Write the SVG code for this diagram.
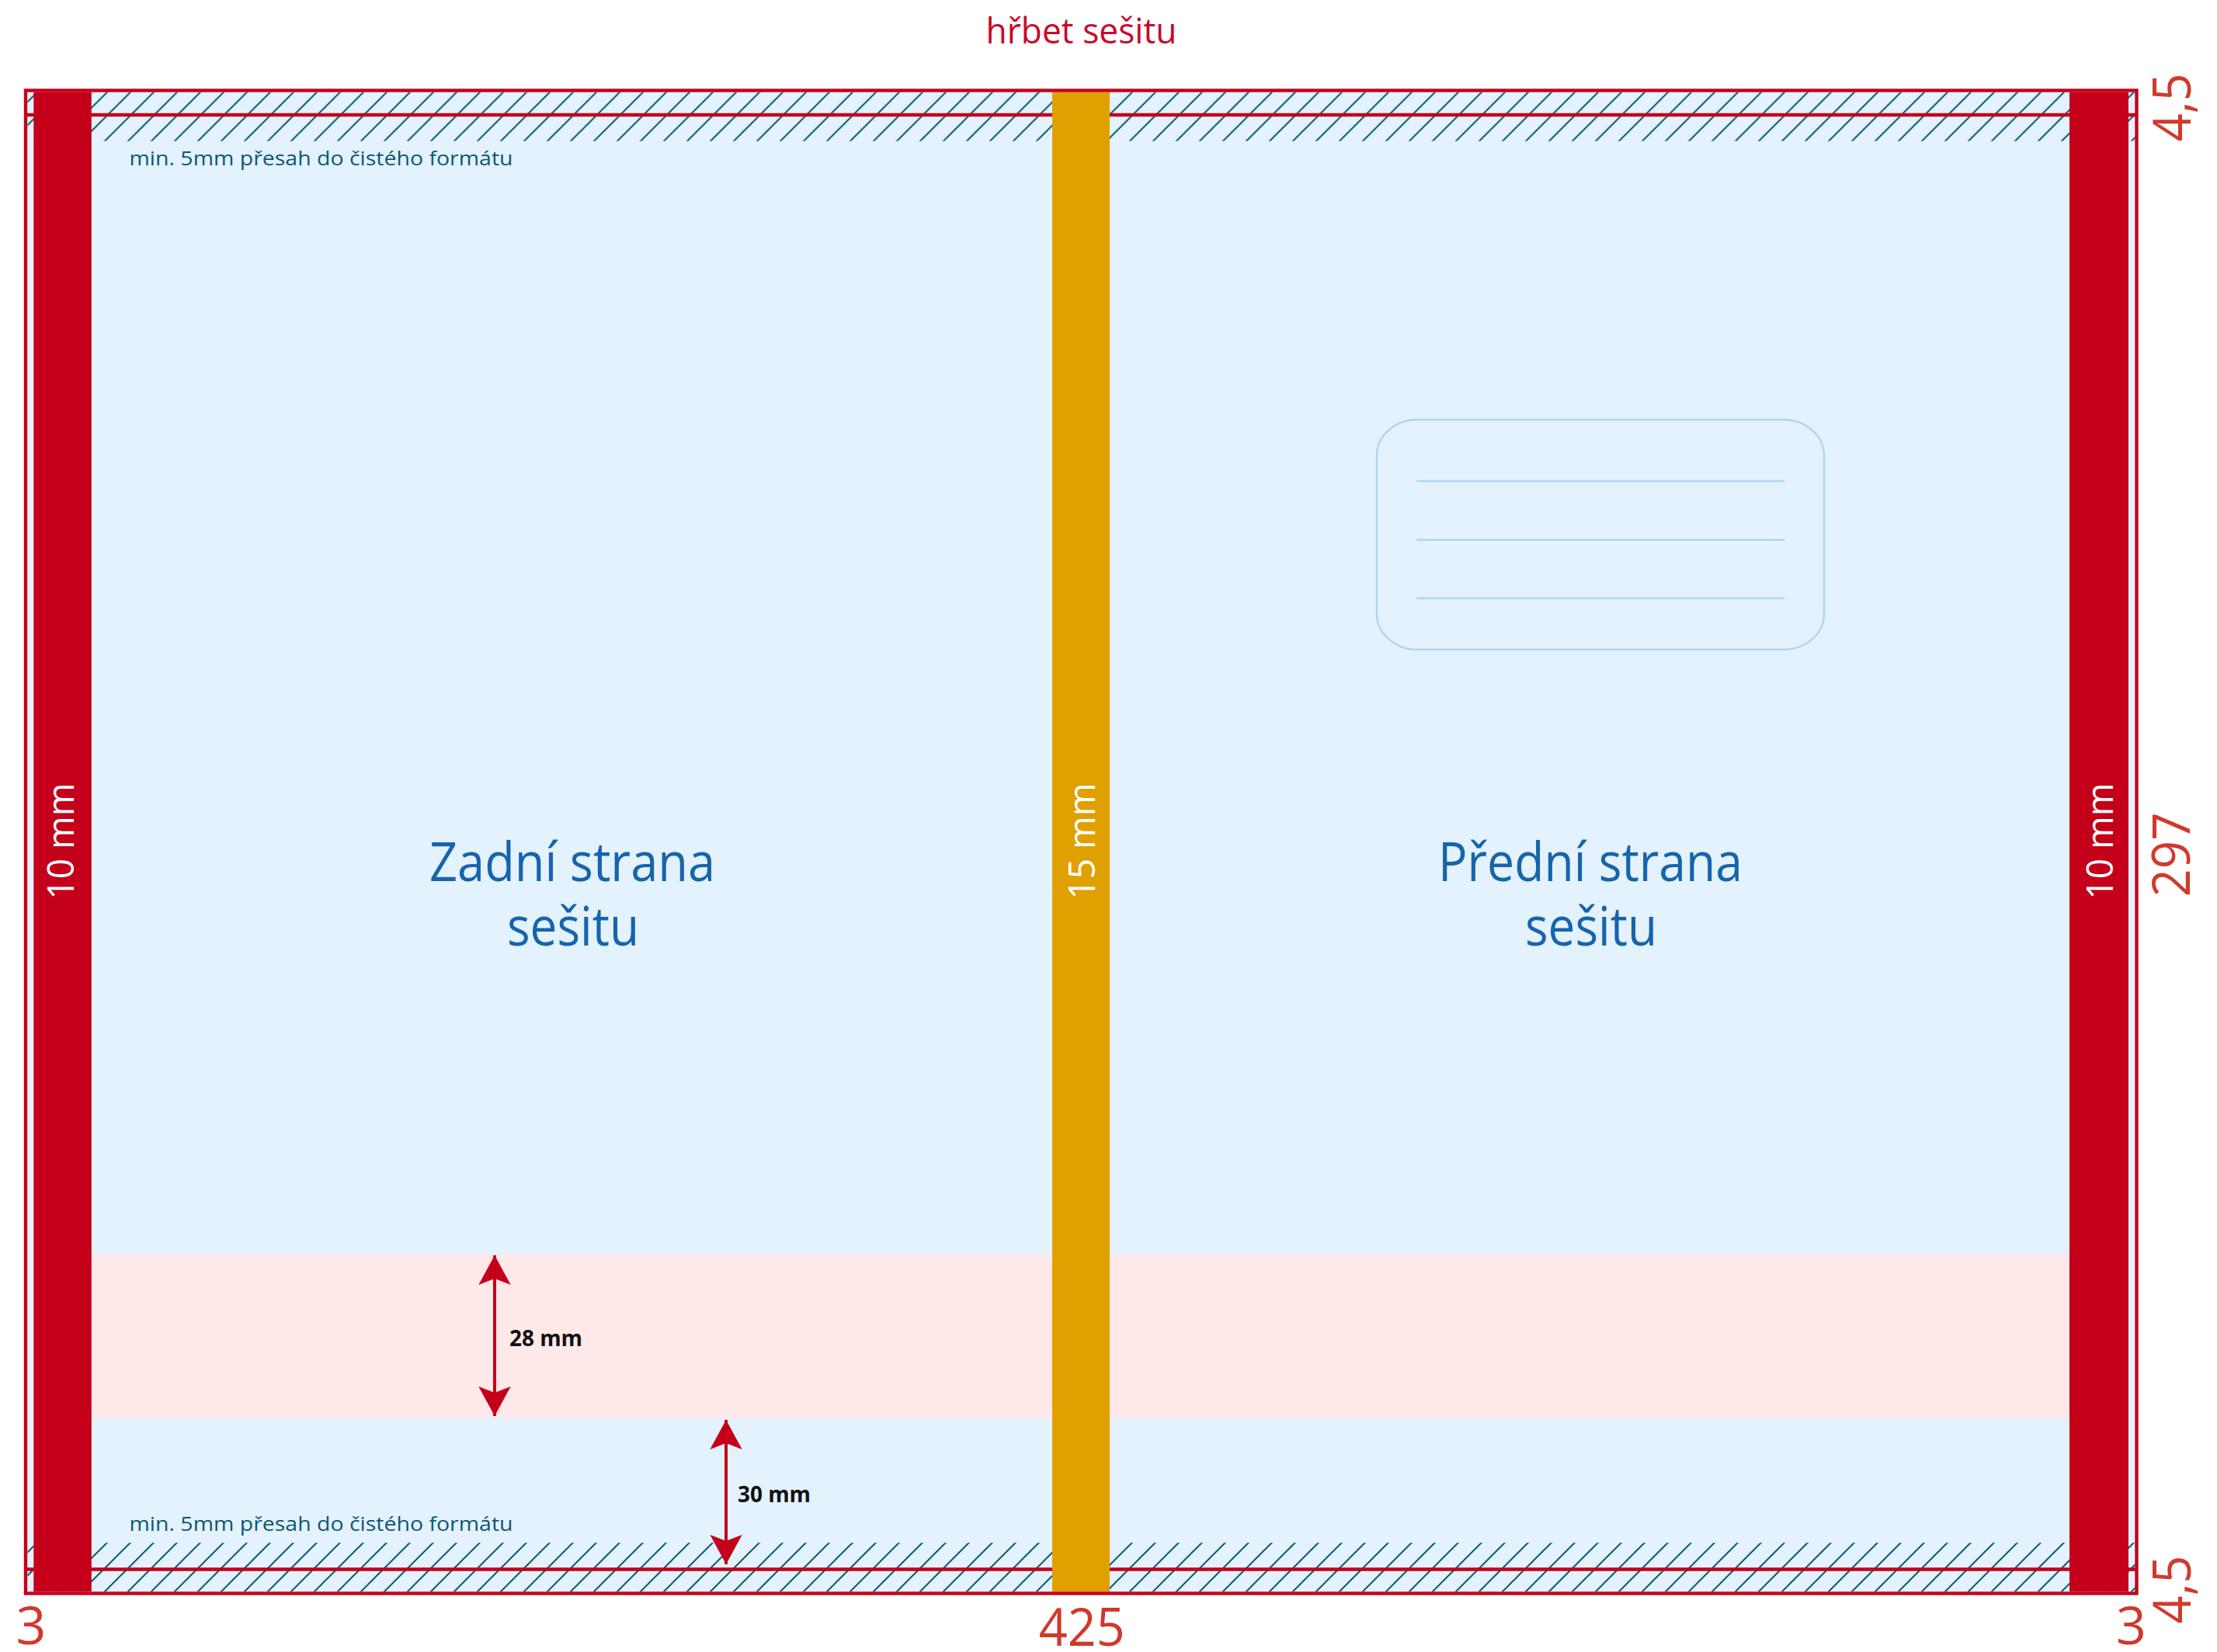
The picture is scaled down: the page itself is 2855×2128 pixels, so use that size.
<svg xmlns="http://www.w3.org/2000/svg" width="2855" height="2128" viewBox="0 0 2855 2128">
  <style>
    .lbl { font-family: "Open Sans", "Noto Sans", "Liberation Sans", sans-serif; }
    .dim { fill: #d0392c; font-size: 68px; }
    .bar { fill: #ffffff; font-size: 48px; }
    .note { fill: #0e5877; font-size: 26px; }
    .title { fill: #1764ad; font-size: 70px; }
    .mm { fill: #111111; font-size: 28px; font-weight: bold; }
    .redline { stroke: #c4001a; stroke-width: 4.4; fill: none; }
    .labline { stroke: #aad4f2; stroke-width: 2.2; fill: none; }
    .arrow { stroke: #c4001a; stroke-width: 4; fill: none; }
  </style>
  <defs>
    <pattern id="hatchTop" patternUnits="userSpaceOnUse" x="16.7" y="0" width="30" height="30">
      <path d="M-2,32 L32,-2 M-2,2 L2,-2 M28,32 L32,28" stroke="#0d5a78" stroke-width="2"/>
    </pattern>
    <pattern id="hatchBot" patternUnits="userSpaceOnUse" x="25" y="0" width="30" height="30">
      <path d="M-2,32 L32,-2 M-2,2 L2,-2 M28,32 L32,28" stroke="#0d5a78" stroke-width="2"/>
    </pattern>
    <marker id="ah" markerUnits="userSpaceOnUse" markerWidth="40" markerHeight="44" viewBox="0 -22 40 44" refX="38" refY="0" orient="auto-start-reverse">
      <path d="M38,0 L0,-20.7 L8,0 L0,20.7 Z" fill="#c4001a"/>
    </marker>
  </defs>

  <g id="background">
    <rect x="33" y="116.5" width="2718.5" height="1936" fill="#e3f2fc"/>
    <rect x="118" y="1615.5" width="2547" height="211" fill="#fee8e8"/>
    <rect x="35.5" y="118.7" width="2714" height="63" fill="url(#hatchTop)"/>
    <rect x="35.5" y="1987.3" width="2714" height="62.8" fill="url(#hatchBot)"/>
    <line class="redline" x1="33" y1="148" x2="2751.5" y2="148"/>
    <line class="redline" x1="33" y1="2021.5" x2="2751.5" y2="2021.5"/>
  </g>

  <g id="left-bar">
    <rect x="43.3" y="118.7" width="74.5" height="1931.5" fill="#c4001a"/>
    <text class="lbl bar" transform="translate(95,1083.7) rotate(-90)" text-anchor="middle" textLength="150" lengthAdjust="spacingAndGlyphs">10 mm</text>
  </g>

  <g id="spine">
    <rect x="1355" y="118.7" width="74" height="1931.5" fill="#e0a000"/>
    <text class="lbl bar" transform="translate(1410,1083.7) rotate(-90)" text-anchor="middle" textLength="150" lengthAdjust="spacingAndGlyphs">15 mm</text>
  </g>

  <g id="right-bar">
    <rect x="2665" y="118.7" width="76" height="1931.5" fill="#c4001a"/>
    <text class="lbl bar" transform="translate(2721,1083.7) rotate(-90)" text-anchor="middle" textLength="150" lengthAdjust="spacingAndGlyphs">10 mm</text>
  </g>

  <g id="outer-border">
    <rect class="redline" x="33" y="116.5" width="2718.5" height="1936" stroke-width="4.8"/>
  </g>

  <g id="spine-title">
    <text class="lbl" x="1392.5" y="56" font-size="46" fill="#c70a2a" text-anchor="middle" textLength="246" lengthAdjust="spacingAndGlyphs">hřbet sešitu</text>
  </g>

  <g id="bleed-notes">
    <text class="lbl note" x="166.5" y="213.3" textLength="494" lengthAdjust="spacingAndGlyphs">min. 5mm přesah do čistého formátu</text>
    <text class="lbl note" x="166.5" y="1971.7" textLength="494" lengthAdjust="spacingAndGlyphs">min. 5mm přesah do čistého formátu</text>
  </g>

  <g id="back-cover">
    <text class="lbl title" x="737" y="1135" text-anchor="middle" textLength="368" lengthAdjust="spacingAndGlyphs">Zadní strana</text>
    <text class="lbl title" x="738" y="1218.3" text-anchor="middle" textLength="170" lengthAdjust="spacingAndGlyphs">sešitu</text>
  </g>

  <g id="front-cover">
    <text class="lbl title" x="2048" y="1135" text-anchor="middle" textLength="392" lengthAdjust="spacingAndGlyphs">Přední strana</text>
    <text class="lbl title" x="2049" y="1218.3" text-anchor="middle" textLength="170" lengthAdjust="spacingAndGlyphs">sešitu</text>
  </g>

  <g id="name-label">
    <rect class="labline" x="1773" y="540.7" width="576" height="296" rx="52" ry="46"/>
    <line class="labline" x1="1824" y1="619.7" x2="2298" y2="619.7"/>
    <line class="labline" x1="1824" y1="695.3" x2="2298" y2="695.3"/>
    <line class="labline" x1="1824" y1="770.7" x2="2298" y2="770.7"/>
  </g>

  <g id="dimensions">
    <text class="lbl dim" x="40" y="2118" text-anchor="middle">3</text>
    <text class="lbl dim" x="1393.3" y="2120" text-anchor="middle" textLength="111" lengthAdjust="spacingAndGlyphs">425</text>
    <text class="lbl dim" x="2744.5" y="2118" text-anchor="middle">3</text>
    <text class="lbl dim" transform="translate(2821,138.3) rotate(-90)" text-anchor="middle" textLength="88" lengthAdjust="spacingAndGlyphs">4,5</text>
    <text class="lbl dim" transform="translate(2820,1101) rotate(-90)" text-anchor="middle" textLength="109" lengthAdjust="spacingAndGlyphs">297</text>
    <text class="lbl dim" transform="translate(2821,2047.5) rotate(-90)" text-anchor="middle" textLength="88" lengthAdjust="spacingAndGlyphs">4,5</text>
  </g>

  <g id="connectors">
    <line class="arrow" x1="637" y1="1617" x2="637" y2="1824" marker-start="url(#ah)" marker-end="url(#ah)"/>
    <line class="arrow" x1="935" y1="1829" x2="935" y2="2015" marker-start="url(#ah)" marker-end="url(#ah)"/>
  </g>

  <g id="arrow-labels">
    <text class="lbl mm" x="656" y="1734" textLength="94" lengthAdjust="spacingAndGlyphs">28 mm</text>
    <text class="lbl mm" x="950" y="1935" textLength="94" lengthAdjust="spacingAndGlyphs">30 mm</text>
  </g>
</svg>
